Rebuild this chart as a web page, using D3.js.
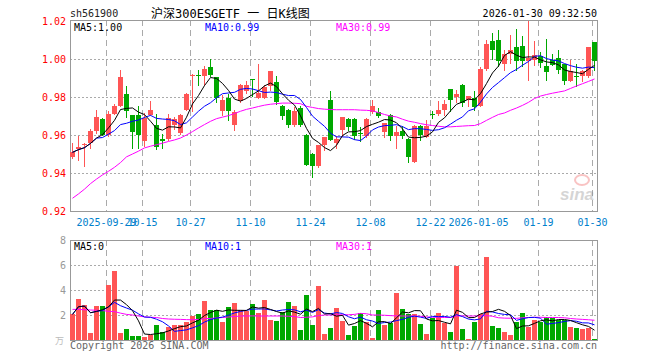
<!DOCTYPE html>
<html><head><meta charset="utf-8">
<script src="https://cdn.jsdelivr.net/npm/d3@7"></script>
<style>body{margin:0;background:#fff}svg{display:block}</style>
</head><body>
<svg id="c" width="660" height="360"></svg>
<script>
const dates = [
"2025-09-19","2025-09-22","2025-09-23","2025-09-24","2025-09-25","2025-09-26","2025-09-29","2025-09-30",
"2025-10-09","2025-10-10","2025-10-13","2025-10-14","2025-10-15","2025-10-16","2025-10-17","2025-10-20",
"2025-10-21","2025-10-22","2025-10-23","2025-10-24","2025-10-27","2025-10-28","2025-10-29","2025-10-30",
"2025-10-31","2025-11-03","2025-11-04","2025-11-05","2025-11-06","2025-11-07","2025-11-10","2025-11-11",
"2025-11-12","2025-11-13","2025-11-14","2025-11-17","2025-11-18","2025-11-19","2025-11-20","2025-11-21",
"2025-11-24","2025-11-25","2025-11-26","2025-11-27","2025-11-28","2025-12-01","2025-12-02","2025-12-03",
"2025-12-04","2025-12-05","2025-12-08","2025-12-09","2025-12-10","2025-12-11","2025-12-12","2025-12-15",
"2025-12-16","2025-12-17","2025-12-18","2025-12-19","2025-12-22","2025-12-23","2025-12-24","2025-12-25",
"2025-12-26","2025-12-29","2025-12-30","2025-12-31","2026-01-05","2026-01-06","2026-01-07","2026-01-08",
"2026-01-09","2026-01-12","2026-01-13","2026-01-14","2026-01-15","2026-01-16","2026-01-19","2026-01-20",
"2026-01-21","2026-01-22","2026-01-23","2026-01-26","2026-01-27","2026-01-28","2026-01-29","2026-01-30"];

const open = [0.9482,0.9526,0.9546,0.9558,0.9623,0.9686,0.9602,0.9712,0.9754,0.9818,
0.9707,0.9707,0.9567,0.9707,0.9654,0.9581,0.9581,0.9654,0.9612,0.9733,
0.9909,0.9918,0.9909,0.9960,0.9905,0.9725,0.9795,0.9654,0.9777,0.9830,
0.9895,0.9795,0.9795,0.9856,0.9877,0.9754,0.9733,0.9654,0.9742,0.9602,
0.9502,0.9435,0.9546,0.9786,0.9558,0.9628,0.9686,0.9686,0.9610,0.9596,
0.9719,0.9719,0.9614,0.9707,0.9593,0.9623,0.9581,0.9458,0.9646,0.9589,
0.9709,0.9712,0.9733,0.9842,0.9798,0.9865,0.9782,0.9795,0.9754,0.9949,
1.0093,1.0098,0.9974,1.0026,1.0061,1.0070,0.9988,0.9996,1.0014,0.9961,
0.9996,1.0005,0.9974,0.9886,0.9912,0.9909,0.9909,1.0088];
const high = [0.9560,0.9596,0.9558,0.9633,0.9733,0.9690,0.9725,0.9765,0.9940,0.9856,
0.9707,0.9754,0.9716,0.9777,0.9712,0.9605,0.9712,0.9695,0.9712,0.9822,
0.9920,0.9940,0.9961,1.0000,0.9907,0.9812,0.9818,0.9733,0.9867,0.9882,
0.9897,0.9975,0.9865,0.9939,0.9909,0.9756,0.9735,0.9747,0.9751,0.9604,
0.9504,0.9546,0.9590,0.9830,0.9593,0.9695,0.9688,0.9688,0.9642,0.9688,
0.9786,0.9742,0.9663,0.9709,0.9646,0.9646,0.9583,0.9654,0.9654,0.9677,
0.9725,0.9777,0.9786,0.9844,0.9835,0.9867,0.9807,0.9830,0.9958,1.0102,
1.0137,1.0154,1.0049,1.0128,1.0160,1.0119,1.0200,1.0096,1.0037,1.0107,
1.0026,1.0049,0.9976,0.9996,0.9974,0.9941,1.0061,1.0090];
const low = [0.9477,0.9470,0.9439,0.9532,0.9611,0.9598,0.9593,0.9710,0.9751,0.9695,
0.9532,0.9532,0.9540,0.9704,0.9528,0.9532,0.9576,0.9630,0.9605,0.9730,
0.9725,0.9861,0.9865,0.9912,0.9772,0.9707,0.9681,0.9628,0.9775,0.9822,
0.9804,0.9793,0.9793,0.9839,0.9765,0.9684,0.9640,0.9645,0.9645,0.9440,
0.9377,0.9432,0.9523,0.9573,0.9532,0.9596,0.9628,0.9581,0.9567,0.9589,
0.9716,0.9695,0.9589,0.9575,0.9532,0.9584,0.9456,0.9456,0.9575,0.9587,
0.9690,0.9707,0.9707,0.9728,0.9775,0.9754,0.9751,0.9733,0.9751,0.9944,
1.0000,0.9961,0.9944,0.9979,0.9944,0.9961,0.9891,0.9970,0.9960,0.9891,
0.9968,0.9926,0.9870,0.9884,0.9856,0.9886,0.9907,0.9944];
const close = [0.9509,0.9537,0.9554,0.9623,0.9695,0.9602,0.9712,0.9754,0.9907,0.9725,
0.9614,0.9602,0.9689,0.9733,0.9537,0.9567,0.9689,0.9686,0.9707,0.9818,
0.9918,0.9909,0.9949,0.9918,0.9795,0.9786,0.9725,0.9721,0.9865,0.9865,
0.9888,0.9821,0.9853,0.9939,0.9772,0.9698,0.9654,0.9725,0.9654,0.9444,
0.9435,0.9546,0.9590,0.9575,0.9581,0.9695,0.9642,0.9593,0.9606,0.9686,
0.9754,0.9698,0.9663,0.9593,0.9614,0.9593,0.9482,0.9646,0.9602,0.9646,
0.9706,0.9733,0.9765,0.9786,0.9818,0.9768,0.9807,0.9747,0.9949,1.0081,
1.0049,0.9988,1.0026,1.0049,0.9988,0.9988,1.0005,1.0019,0.9979,0.9932,
0.9970,0.9944,0.9886,0.9939,0.9905,0.9939,1.0061,0.9988];
const ma30 = [0.9267,0.9290,0.9315,0.9344,0.9368,0.9390,0.9409,0.9430,0.9455,0.9485,
0.9500,0.9515,0.9532,0.9541,0.9549,0.9557,0.9566,0.9574,0.9584,0.9600,
0.9618,0.9637,0.9655,0.9672,0.9686,0.9694,0.9702,0.9713,0.9725,0.9735,
0.9742,0.9750,0.9757,0.9762,0.9765,0.9768,0.9768,0.9767,0.9765,0.9751,
0.9745,0.9739,0.9736,0.9734,0.9733,0.9733,0.9733,0.9733,0.9731,0.9730,
0.9727,0.9718,0.9708,0.9700,0.9695,0.9683,0.9673,0.9667,0.9660,0.9654,
0.9650,0.9646,0.9643,0.9643,0.9645,0.9647,0.9649,0.9650,0.9660,0.9677,
0.9693,0.9708,0.9716,0.9730,0.9742,0.9756,0.9772,0.9792,0.9805,0.9813,
0.9820,0.9826,0.9832,0.9845,0.9858,0.9870,0.9882,0.9895];
const volume = [2.05,3.28,2.80,0.59,2.72,2.72,4.40,5.55,0.59,0.88,
0.32,0.32,0.27,0.40,1.20,0.67,1.07,1.20,1.20,1.47,
1.92,2.08,3.12,2.40,2.40,1.47,2.64,2.96,2.40,2.35,
2.88,2.16,3.20,1.63,1.52,2.24,3.04,2.72,0.80,3.60,
1.20,4.32,0.48,0.96,2.56,1.55,0.40,1.12,2.13,1.47,
0.16,2.40,1.20,1.33,3.79,2.48,2.08,2.08,1.28,0.48,
1.76,2.19,1.39,0.64,5.95,0.88,0.08,1.44,2.08,6.67,
1.12,0.96,0.64,0.40,1.44,2.16,1.04,1.60,1.44,1.84,
1.73,1.60,1.60,1.04,0.96,0.88,0.96,0.08];
const volMa30 = [2.45,2.45,2.42,2.40,2.38,2.35,2.30,2.27,2.15,2.05,
2.00,1.92,1.85,1.82,1.80,1.72,1.68,1.66,1.65,1.63,
1.62,1.65,1.70,1.73,1.76,1.80,1.84,1.88,1.92,1.92,
1.93,1.92,1.92,1.92,1.92,1.92,1.90,1.88,1.80,1.82,
1.85,1.95,2.00,2.00,2.02,2.02,2.02,2.05,2.13,2.10,
2.00,2.00,1.98,1.95,1.93,1.92,1.92,1.92,1.90,1.85,
1.82,1.82,1.80,1.80,1.92,1.93,1.92,1.92,1.92,1.95,
1.90,1.78,1.75,1.74,1.73,1.78,1.80,1.82,1.82,1.80,
1.80,1.80,1.78,1.72,1.68,1.65,1.62,1.58];

const tickDates = ["2025-09-29","2025-10-15","2025-10-27","2025-11-10","2025-11-24","2025-12-08","2025-12-22","2026-01-05","2026-01-19","2026-01-30"];
const tickLabels = ["2025-09-29","10-15","10-27","11-10","11-24","12-08","12-22","2026-01-05","01-19","01-30"];
const priceTicks = [1.02,1.00,0.98,0.96,0.94,0.92];
const volTicks = [8,6,4,2];
const priceLegend = ["MA5:1.00","MA10:0.99","MA30:0.99"];
const volLegend = ["MA5:0","MA10:1","MA30:1"];

const RED = "#ff5555", GREEN = "#00a800", BLUE = "#0000ff", MAG = "#ff00ff";
const MONO = "'DejaVu Sans Mono', monospace";

const svg = d3.select("#c");
const L = 70, R = 598;
const x = d3.scaleBand().domain(dates).range([L, R]).padding(0);
const y = d3.scaleLinear().domain([0.92, 1.02]).range([211, 21]);
const yv = d3.scaleLinear().domain([0, 8]).range([340, 240]);
const cx = d => x(d) + 2.5;

function movAvg(arr, n) {
  return arr.map((v, i) => d3.mean(arr.slice(Math.max(0, i - n + 1), i + 1)));
}
const ma5 = movAvg(close, 5), ma10 = movAvg(close, 10);
const vma5 = movAvg(volume, 5), vma10 = movAvg(volume, 10);

// header
svg.append("text").attr("x", 70).attr("y", 17).attr("font-family", MONO).attr("font-size", 10)
  .attr("fill", "#222").text("sh561900");
svg.append("text").attr("x", 151).attr("y", 18).attr("font-family", "'DejaVu Sans Mono','Noto Sans CJK SC',monospace")
  .attr("font-size", 12).attr("fill", "#000").text("沪深300ESGETF 一 日K线图");
svg.append("text").attr("x", 597).attr("y", 17).attr("text-anchor", "end").attr("font-family", MONO)
  .attr("font-size", 10).attr("fill", "#000").text("2026-01-30 09:32:50");

function panel(top, bottom, yScale, dotted) {
  const g = svg.append("g");
  g.selectAll("line.v").data(tickDates).enter().append("line")
    .attr("x1", d => x(d) + 0.5).attr("x2", d => x(d) + 0.5)
    .attr("y1", top).attr("y2", bottom)
    .attr("stroke", "#aaa").attr("stroke-dasharray", "6,4").attr("shape-rendering", "crispEdges");
  g.selectAll("line.h").data(dotted).enter().append("line")
    .attr("x1", L).attr("x2", 597).attr("y1", d => Math.round(yScale(d)) + 0.5).attr("y2", d => Math.round(yScale(d)) + 0.5)
    .attr("stroke", "#aaa").attr("stroke-dasharray", "2,2").attr("shape-rendering", "crispEdges");
  g.append("rect").attr("x", 70.5).attr("y", top + 0.5).attr("width", 527).attr("height", bottom - top)
    .attr("fill", "none").attr("stroke", "#999").attr("shape-rendering", "crispEdges");
  return g;
}
panel(20, 211, y, [1.00, 0.98, 0.96, 0.94]);
panel(240, 340, yv, [6, 4, 2]);

// price labels
svg.append("g").selectAll("text").data(priceTicks).enter().append("text")
  .attr("x", 66).attr("y", d => y(d) + 4)
  .attr("text-anchor", "end").attr("font-family", MONO).attr("font-size", 10).attr("fill", "#ff0000")
  .text(d => d3.format(".2f")(d));
// vol labels
svg.append("g").selectAll("text").data(volTicks).enter().append("text")
  .attr("x", 66).attr("y", d => yv(d) + 4)
  .attr("text-anchor", "end").attr("font-family", MONO).attr("font-size", 10).attr("fill", "#999")
  .text(d => d);
svg.append("text").attr("x", 64).attr("y", 344).attr("text-anchor", "end")
  .attr("font-family", "'Noto Sans CJK SC',sans-serif").attr("font-size", 9).attr("fill", "#bbb").text("万");

// x labels
svg.append("g").selectAll("text").data(tickDates).enter().append("text")
  .attr("x", d => x(d) + 0.5).attr("y", 226).attr("text-anchor", "middle")
  .attr("font-family", MONO).attr("font-size", 10).attr("fill", "#0080cc")
  .text((d, i) => tickLabels[i]);

// watermark
const wm = svg.append("g").attr("opacity", 0.35);
wm.append("ellipse").attr("cx", 582).attr("cy", 180).attr("rx", 7).attr("ry", 5).attr("fill", "none").attr("stroke", "#e55").attr("stroke-width", 2);
wm.append("text").attr("x", 577).attr("y", 200).attr("text-anchor", "middle").attr("font-family", "Arial, sans-serif")
  .attr("font-style", "italic").attr("font-weight", "bold").attr("font-size", 17).attr("fill", "#888").text("sina");

// candles and volume bars
const cg = svg.append("g").attr("shape-rendering", "crispEdges");
dates.forEach((d, i) => {
  const up = close[i] >= open[i];
  const col = up ? RED : GREEN;
  const top = Math.round(y(Math.max(open[i], close[i])));
  const bot = Math.round(y(Math.min(open[i], close[i])));
  cg.append("line").attr("x1", x(d) + 2.5).attr("x2", x(d) + 2.5)
    .attr("y1", Math.round(y(high[i]))).attr("y2", Math.round(y(low[i])) + 1).attr("stroke", col);
  cg.append("rect").attr("x", x(d)).attr("y", top).attr("width", 5).attr("height", Math.max(1, bot - top))
    .attr("fill", col);
  const vt = Math.round(yv(volume[i]));
  cg.append("rect").attr("x", x(d)).attr("y", vt).attr("width", 5).attr("height", 340 - vt).attr("fill", col);
});

function drawLine(vals, scale, color) {
  svg.append("path").datum(vals)
    .attr("d", d3.line().x((v, i) => cx(dates[i])).y(v => scale(v)))
    .attr("fill", "none").attr("stroke", color).attr("stroke-width", 1);
}
drawLine(ma30, y, MAG); drawLine(ma10, y, BLUE); drawLine(ma5, y, "#000");
drawLine(volMa30, yv, MAG); drawLine(vma10, yv, BLUE); drawLine(vma5, yv, "#000");

// legends
const lx = [74, 205, 336], lc = ["#000", BLUE, MAG];
priceLegend.forEach((t, i) => svg.append("text").attr("x", lx[i]).attr("y", 31).attr("font-family", MONO)
  .attr("font-size", 10).attr("fill", lc[i]).text(t));
volLegend.forEach((t, i) => svg.append("text").attr("x", lx[i]).attr("y", 250).attr("font-family", MONO)
  .attr("font-size", 10).attr("fill", lc[i]).text(t));

// footer
svg.append("text").attr("x", 70).attr("y", 349).attr("font-family", MONO).attr("font-size", 10)
  .attr("fill", "#666").text("Copyright 2026 SINA.COM");
svg.append("text").attr("x", 597).attr("y", 349).attr("text-anchor", "end").attr("font-family", MONO)
  .attr("font-size", 10).attr("fill", "#666").text("http://finance.sina.com.cn");
</script>
</body></html>
